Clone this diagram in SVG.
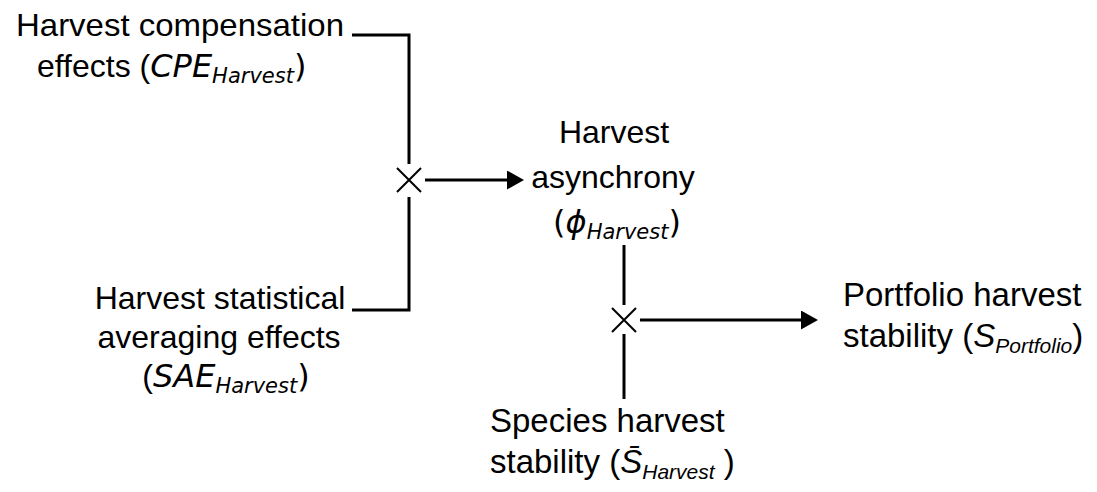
<svg xmlns="http://www.w3.org/2000/svg" width="1097" height="492" viewBox="0 0 1097 492">
<style>
  .t { font-family: "Liberation Sans", Arial, sans-serif; font-size: 32px; fill: #000; }
  .r { font-size: 33px; }
  .dv { font-family: "DejaVu Sans", Verdana, sans-serif; }
  .it { font-style: italic; }
  .sub { font-size: 21px; }
  .ln { fill: none; stroke: #000; stroke-width: 3; }
  .x { fill: none; stroke: #000; stroke-width: 2; }
</style>
<defs>
  <marker id="ah" markerUnits="userSpaceOnUse" markerWidth="18" markerHeight="20" refX="1" refY="9.5" orient="auto">
    <path d="M0,0 L17,9.5 L0,19 Z" fill="#000"/>
  </marker>
</defs>
<rect width="1097" height="492" fill="#fff"/>

<g id="connectors">
  <path class="ln" d="M352,35 H409 V164"/>
  <path class="ln" d="M409,197 V310 H352"/>
  <path class="x" d="M397,168 L421,192 M421,168 L397,192"/>
  <line class="ln" x1="425" y1="180" x2="508" y2="180" marker-end="url(#ah)"/>
  <path class="ln" d="M624,245 V305"/>
  <path class="ln" d="M624,334 V399"/>
  <path class="x" d="M612,308 L636,332 M636,308 L612,332"/>
  <line class="ln" x1="640" y1="320" x2="802" y2="320" marker-end="url(#ah)"/>
</g>

<g id="node-cpe">
  <text class="t" x="16" y="36" textLength="328" lengthAdjust="spacingAndGlyphs">Harvest compensation</text>
  <text class="t" x="37" y="77">effects (<tspan class="dv it">CPE</tspan><tspan class="dv it sub" dy="6">Harvest</tspan><tspan class="dv" dy="-6">)</tspan></text>
</g>

<g id="node-sae">
  <text class="t" x="220" y="309" text-anchor="middle">Harvest statistical</text>
  <text class="t" x="219" y="348" text-anchor="middle">averaging effects</text>
  <text class="t" x="226" y="387" text-anchor="middle">(<tspan class="dv it">SAE</tspan><tspan class="dv it sub" dy="6">Harvest</tspan><tspan class="dv" dy="-6">)</tspan></text>
</g>

<g id="node-async">
  <text class="t" x="614" y="143" text-anchor="middle">Harvest</text>
  <text class="t" x="613" y="188" text-anchor="middle">asynchrony</text>
  <text class="t dv" x="617" y="233" text-anchor="middle">(<tspan class="it">ϕ</tspan><tspan class="it sub" dy="6">Harvest</tspan><tspan dy="-6">)</tspan></text>
</g>

<g id="node-portfolio">
  <text class="t r" x="843" y="306">Portfolio harvest</text>
  <text class="t r" x="843" y="347">stability (<tspan class="it">S</tspan><tspan class="it sub" dy="6">Portfolio</tspan><tspan dy="-6">)</tspan></text>
</g>

<g id="node-species">
  <text class="t r" x="490" y="432">Species harvest</text>
  <text class="t r" x="490" y="473">stability (<tspan class="it">S̄</tspan><tspan class="it sub" dy="6">Harvest</tspan><tspan dy="-6"> )</tspan></text>
</g>
</svg>
